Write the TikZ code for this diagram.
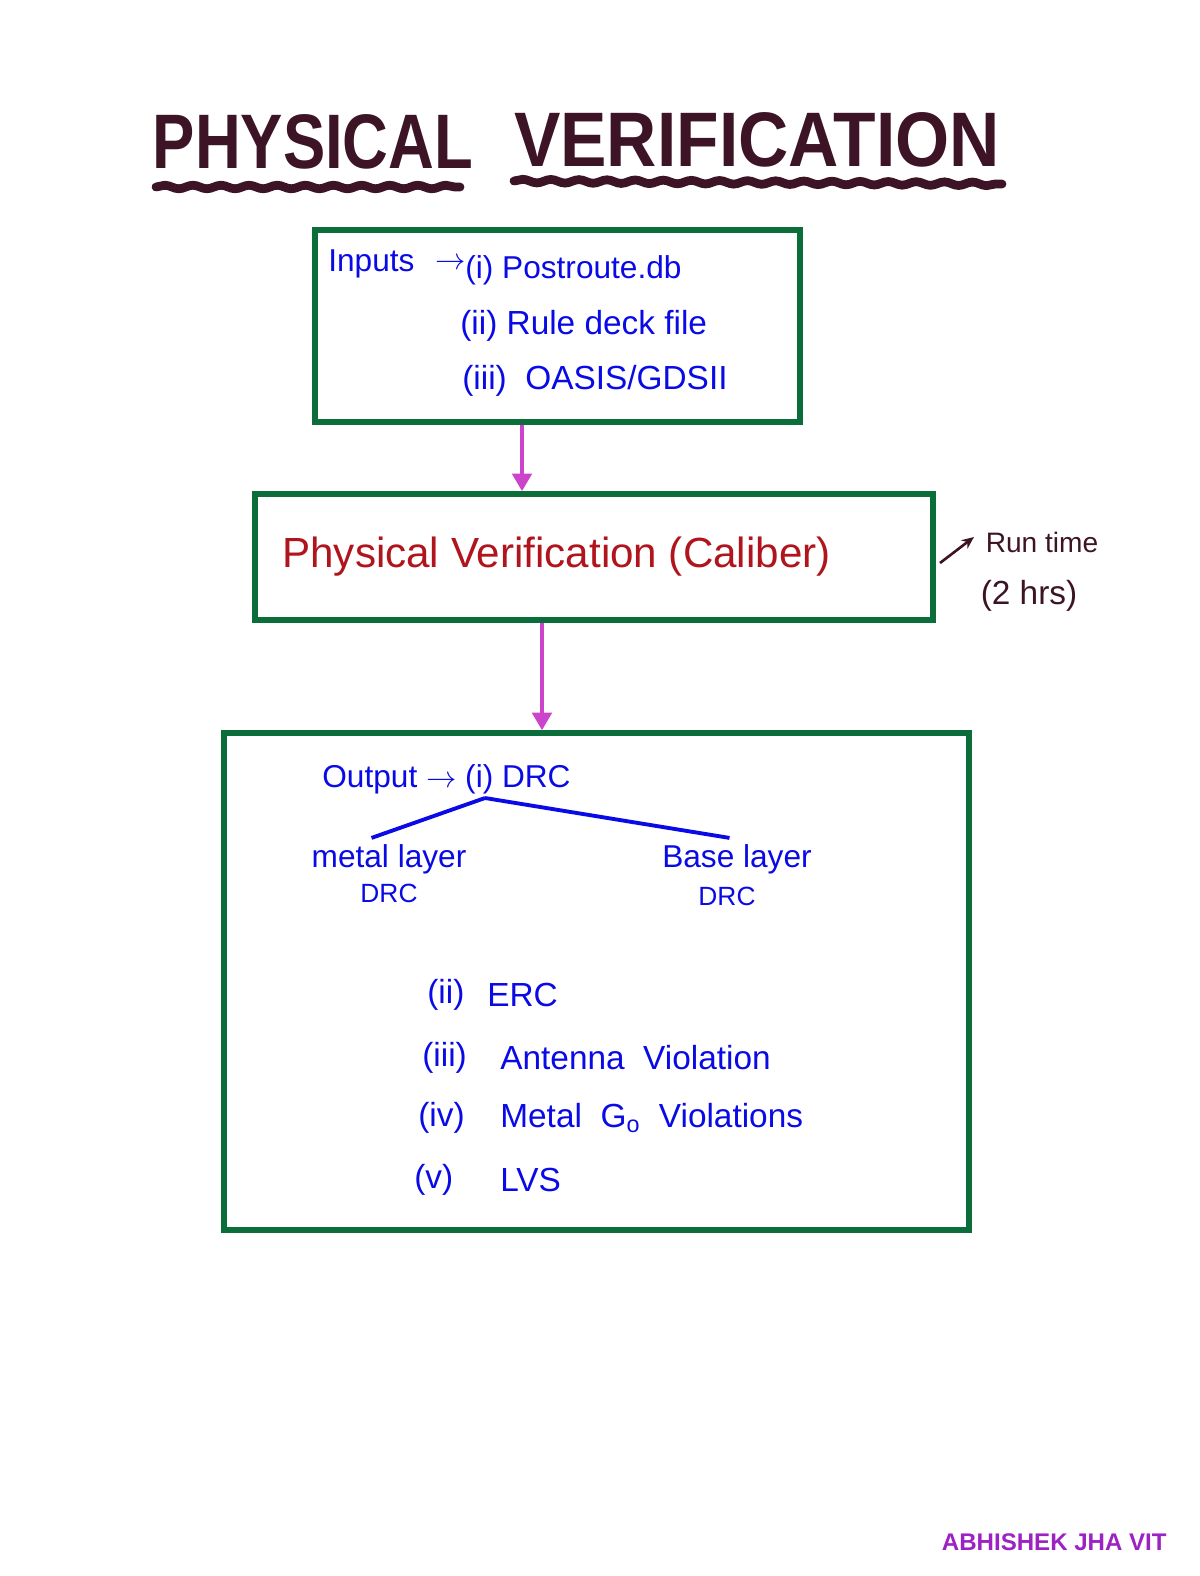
\documentclass[tikz,border=0pt]{standalone}
\usepackage{graphicx}
\usepackage{fontspec}
\setmainfont{Liberation Sans}
\usetikzlibrary{arrows.meta,decorations.pathmorphing}
\definecolor{boxgreen}{HTML}{0B6E3A}
\definecolor{inkblue}{HTML}{0A0AE6}
\definecolor{inkred}{HTML}{B0141C}
\definecolor{maroon}{HTML}{3D1426}
\definecolor{pinkarrow}{HTML}{CC44CC}
\definecolor{signpurple}{HTML}{9C22C4}
\tikzset{
  greenbox/.style={draw=boxgreen, line width=3.2pt, inner sep=0pt},
  flowarrow/.style={draw=pinkarrow, line width=2.2pt, -{Triangle[width=11pt,length=10pt]}},
  bluetext/.style={text=inkblue, font=\fontsize{18}{21}\selectfont, inner sep=0pt},
  listtext/.style={text=inkblue, font=\fontsize{19}{22}\selectfont, inner sep=0pt, anchor=west},
  wavy/.style={draw=maroon, line width=5pt, line cap=round, decorate, decoration={snake, amplitude=1pt, segment length=16pt}},
}
\begin{document}
\begin{tikzpicture}[x=0.02cm,y=-0.02cm]
\useasboundingbox (0,0) rectangle (1200,1576);
% title
\node (t1) at (313,142) {\color{maroon}\scalebox{0.82}[1]{\fontsize{44}{50}\selectfont\bfseries PHYSICAL}};
\node (t2) at (757,140) {\color{maroon}\scalebox{0.9}[1]{\fontsize{44}{50}\selectfont\bfseries VERIFICATION}};
\coordinate (u1a) at (156,187);
\coordinate (u1b) at (460,187);
\coordinate (u2a) at (514,181);
\coordinate (u2b) at (1002,184);
\draw[wavy] (u1a) -- (u1b);
\draw[wavy] (u2a) -- (u2b);
% box 1
\node[greenbox, minimum width=9.7cm, minimum height=3.84cm] (b1) at (557.5,326) {};
\node[bluetext, anchor=west] (in) at (328,264) {Inputs};
\node[bluetext, anchor=west] (inar) at (435,264) {$\rightarrow$};
\node[bluetext, anchor=west] (in1) at (465,270) {(i) Postroute.db};
\node[bluetext, anchor=west, font=\fontsize{19}{22}\selectfont] (in2) at (460,326) {(ii) Rule deck file};
\node[bluetext, anchor=west, font=\fontsize{19}{22}\selectfont] (in3) at (462,381) {(iii)\ \ OASIS/GDSII};
% box 2
\node[greenbox, minimum width=13.56cm, minimum height=2.52cm] (b2) at (594,557) {};
\node[text=inkred, font=\fontsize{24}{28}\selectfont, anchor=west, inner sep=0pt] (pv) at (282,557) {Physical Verification (Caliber)};
% run time
\node[text=maroon, font=\fontsize{16}{19}\selectfont, inner sep=0pt] (rt) at (1042,542) {Run time};
\node[text=maroon, font=\fontsize{19}{22}\selectfont, inner sep=0pt] (rh) at (1029,596) {(2 hrs)};
\coordinate (rs) at (940,563);
\coordinate (re) at (974,537);
\draw[draw=maroon, line width=1.5pt, -{Stealth[length=7pt,width=6pt]}] (rs) -- (re);
% box 3
\node[greenbox, minimum width=14.9cm, minimum height=9.94cm] (b3) at (596.5,981.5) {};
% arrows
\coordinate (a1) at (522,0);
\coordinate (a2) at (542,0);
\draw[flowarrow] (b1.south -| a1) -- (b2.north -| a1);
\draw[flowarrow] (b2.south -| a2) -- (b3.north -| a2);
% output
\node[bluetext, anchor=west] (out) at (322,779) {Output $\rightarrow$ (i) DRC};
\coordinate (drc) at (485,798);
\node[bluetext, anchor=center] (ml) at (389,859) {metal layer};
\node[bluetext, anchor=center, font=\fontsize{15}{18}\selectfont] (ml2) at (389,893) {DRC};
\node[bluetext, anchor=center] (bl) at (737,859) {Base layer};
\node[bluetext, anchor=center, font=\fontsize{15}{18}\selectfont] (bl2) at (727,896) {DRC};
\draw[draw=inkblue, line width=2.2pt] (drc) -- ([xshift=-0.35cm,yshift=0.12cm]ml.north);
\draw[draw=inkblue, line width=2.2pt] (drc) -- ([xshift=-0.15cm,yshift=0.12cm]bl.north);
% list
\node[listtext] (n2) at (427,995) {(ii)};
\node[listtext] (e2) at (487,995) {ERC};
\node[listtext] (n3) at (422,1058) {(iii)};
\node[listtext] (e3) at (500,1058) {Antenna\ \ Violation};
\node[listtext] (n4) at (418,1118) {(iv)};
\node[listtext] (e4) at (500,1118) {Metal\ \ G\textsubscript{o}\ \ Violations};
\node[listtext] (n5) at (414,1180) {(v)};
\node[listtext] (e5) at (500,1180) {LVS};
% signature
\node[text=signpurple, font=\fontsize{13.7}{16}\selectfont\bfseries, anchor=east, inner sep=0pt] (sig) at (1167,1542) {ABHISHEK JHA VIT};
\end{tikzpicture}
\end{document}
